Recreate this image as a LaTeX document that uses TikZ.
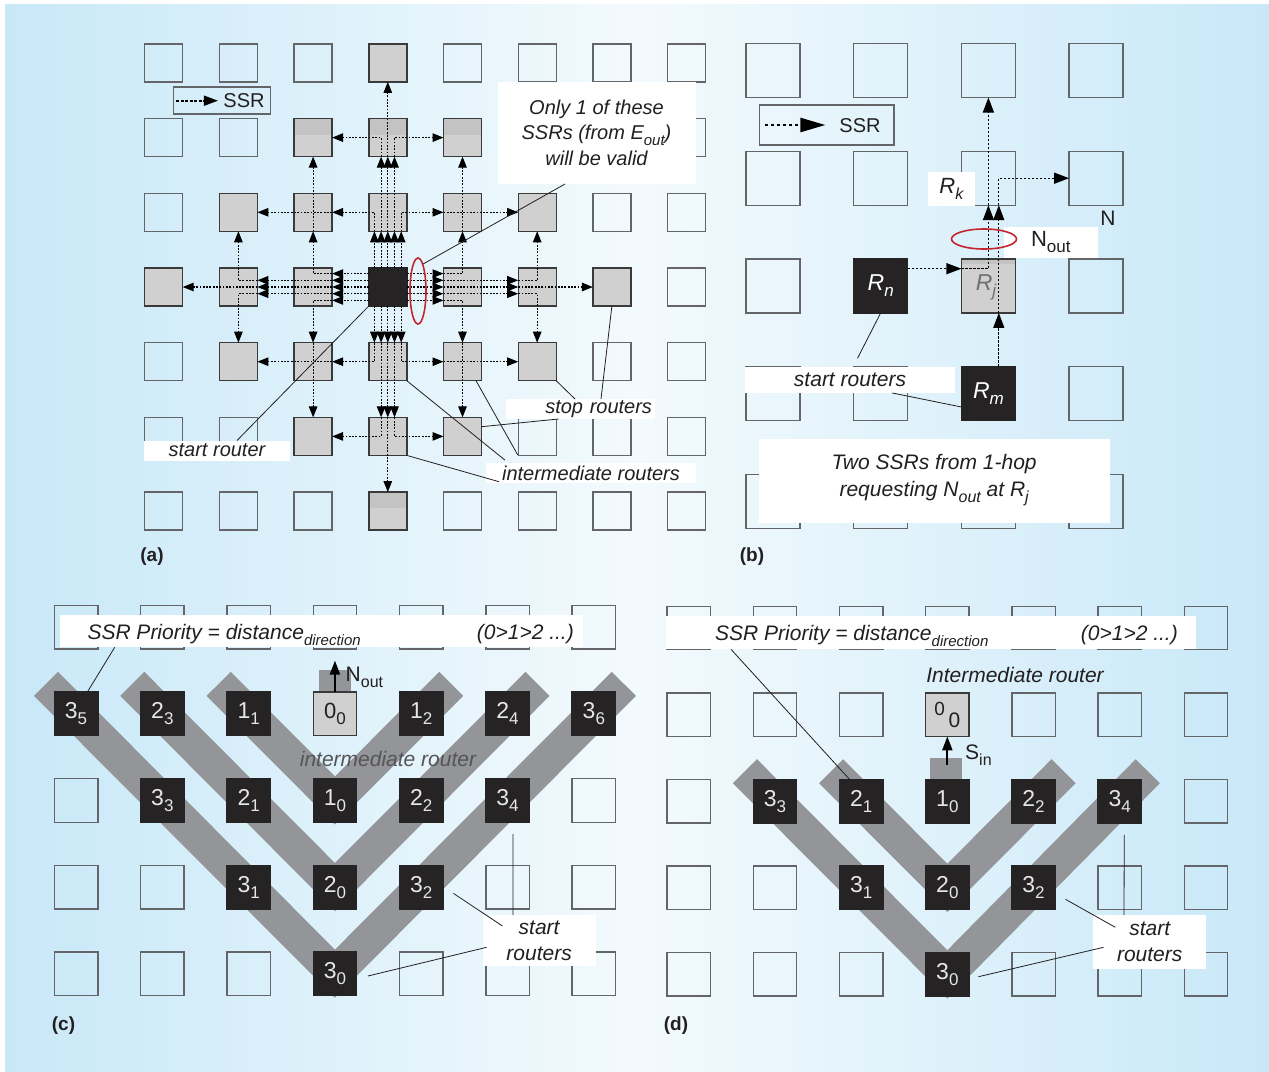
\documentclass[tikz,border=0pt]{standalone}
\usepackage{fontspec}
\setmainfont{Liberation Sans}
\usetikzlibrary{arrows.meta,calc,shapes.geometric}
\definecolor{bgb}{HTML}{C8E8F8}
\definecolor{bgw}{HTML}{F3FAFD}
\definecolor{sqline}{HTML}{646569}
\definecolor{gline}{HTML}{3A3A3A}
\definecolor{gfill}{HTML}{D0D0D1}
\definecolor{gband}{HTML}{C3C3C4}
\definecolor{blk}{HTML}{262324}
\definecolor{band}{HTML}{939598}
\definecolor{txt}{HTML}{231F20}
\definecolor{redc}{HTML}{C4262E}
\definecolor{digit}{HTML}{E6E6E6}
\definecolor{rjtxt}{HTML}{707072}
\definecolor{irtxt}{HTML}{555557}
\pgfdeclarelayer{back}
\pgfdeclarelayer{bands}
\pgfsetlayers{back,bands,main}
\newcommand\fsz[1]{\fontsize{#1}{#1}\selectfont}
\newcommand\lsub[3]{\raisebox{-#1}{\fsz{#2}#3}}
\newcommand\dg[2]{#1\raisebox{-6pt}{\fsz{17}#2}}
\tikzset{
 sq/.style={inner sep=0pt, outer sep=0pt, line width=1.4pt},
 empa/.style={sq, draw=sqline, minimum size=38pt},
 graya/.style={sq, draw=gline, fill=gfill, minimum size=38pt},
 blka/.style={sq, draw=blk, fill=blk, minimum size=38pt},
 empb/.style={sq, draw=sqline, minimum size=54pt},
 grayb/.style={sq, draw=gline, fill=gfill, minimum size=54pt, font=\fsz{23}\itshape, text=rjtxt},
 blkb/.style={sq, draw=blk, fill=blk, minimum size=54pt, font=\fsz{23}\itshape, text=white},
 empc/.style={sq, draw=sqline, minimum size=43.5pt},
 grayc/.style={sq, draw=gline, fill=gfill, minimum size=43.5pt, font=\fsz{22}, text=txt},
 blkc/.style={sq, draw=blk, fill=blk, minimum size=43.5pt, font=\fsz{23}, text=digit},
 wbox/.style={fill=white, inner sep=0pt, outer sep=0pt},
 legbox/.style={draw=sqline, line width=1.2pt, inner sep=0pt},
 ssr/.style={draw=black, line width=1.1pt, dash pattern=on 1.8pt off 1.5pt, -{Triangle[length=11pt,width=8.5pt]}},
 ssrb/.style={draw=black, line width=1.3pt, dash pattern=on 2.2pt off 1.8pt, -{Triangle[length=15pt,width=11pt]}},
 lega/.style={draw=black, line width=1.6pt, dash pattern=on 3pt off 1.5pt, -{Triangle[length=14pt,width=10pt]}},
 legb/.style={draw=black, line width=2.4pt, dash pattern=on 3.5pt off 2.5pt, -{Triangle[length=25pt,width=14pt]}},
 lead/.style={draw=txt, line width=0.8pt},
 bandst/.style={draw=band, line width=34pt, line cap=butt, line join=miter},
 redell/.style={ellipse, draw=redc, line width=1.6pt, inner sep=0pt},
 portarr/.style={draw=black, line width=2pt, -{Triangle[length=14pt,width=10pt]}},
 plabel/.style={font=\fsz{19}\bfseries},
 itx/.style={font=\fsz{20}\itshape},
 itc/.style={font=\fsz{21}\itshape},
 stubst/.style={fill=band, inner sep=0pt, outer sep=0pt},
}
\begin{document}
\begin{tikzpicture}[x=1pt,y=-1pt,font=\fsz{20},text=txt]
\useasboundingbox (0,0) rectangle (1269,1071);
\begin{pgfonlayer}{back}
 \fill[white] (0,0) rectangle (1269,1071);
 \shade[left color=bgb, right color=bgb, middle color=bgw] (5,4) rectangle (1269,1071);
\end{pgfonlayer}

% ================= Panel (a) =================
\foreach \i in {0,...,7}{
 \foreach \j in {0,...,6}{
  \pgfmathtruncatemacro{\dd}{abs(\i-3)+abs(\j-3)}
  \ifnum\dd=0
   \node[blka] (a\i\j) at ({163.7+74.7*\i},{62.9+74.7*\j}) {};
  \else\ifnum\dd<4
   \node[graya] (a\i\j) at ({163.7+74.7*\i},{62.9+74.7*\j}) {};
  \else
   \node[empa] (a\i\j) at ({163.7+74.7*\i},{62.9+74.7*\j}) {};
  \fi\fi
 }}
\foreach \n in {a21,a31,a41,a36}
 \fill[gband] ($(\n.north west)+(0.7,0.7)$) rectangle ($(\n.east)+(-0.7,-3)$);

% legend
\node[legbox, minimum width=97pt, minimum height=27pt] (lgA) at (221.75,100.5) {};
\coordinate (lgAs) at ($(lgA.west)+(3.8,0.2)$);
\coordinate (lgAe) at ($(lgA.west)+(45.3,0.2)$);
\draw[lega] (lgAs) -- (lgAe);
\node (lgAt) at (244,100.5) {SSR};

% callout box
\node[wbox, minimum width=198pt, minimum height=102pt, align=center, font=\fsz{20}\itshape] (only) at (596.5,133)
 {Only 1 of these\\[5pt]SSRs (from E\lsub{6pt}{15}{out})\\[5pt]will be valid};

% SSR lines
\foreach \k in {-2,...,2}{
 \draw[ssr] ($(a33.east)+(0,{6.7*(\k)})$) -- ($(a43.west)+(0,{6.7*(\k)})$);
 \draw[ssr] ($(a33.west)+(0,{6.7*(\k)})$) -- ($(a23.east)+(0,{6.7*(\k)})$);
 \draw[ssr] ($(a33.north)+({6.7*(\k)},0)$) -- ($(a32.south)+({6.7*(\k)},0)$);
 \draw[ssr] ($(a33.south)+({6.7*(\k)},0)$) -- ($(a34.north)+({6.7*(\k)},0)$);
}
\foreach \k in {-1,0,1}{
 \draw[ssr] ($(a43.west)+(0,{6.7*(\k)})$) -- ($(a53.west)+(0,{6.7*(\k)})$);
 \draw[ssr] ($(a23.east)+(0,{6.7*(\k)})$) -- ($(a13.east)+(0,{6.7*(\k)})$);
 \draw[ssr] ($(a32.south)+({6.7*(\k)},0)$) -- ($(a31.south)+({6.7*(\k)},0)$);
 \draw[ssr] ($(a34.north)+({6.7*(\k)},0)$) -- ($(a35.north)+({6.7*(\k)},0)$);
}
% east
\draw[ssr] ($(a43.west)+(0,-13.4)$) -| (a42.south);
\draw[ssr] (a42.south) -- (a41.south);
\draw[ssr] ($(a43.west)+(0,13.4)$) -| (a44.north);
\draw[ssr] (a44.north) -- (a45.north);
\draw[ssr] ($(a53.west)+(0,-6.7)$) -| (a52.south);
\draw[ssr] ($(a53.west)+(0,6.7)$) -| (a54.north);
\draw[ssr] (a53.west) -- (a63.west);
% west
\draw[ssr] ($(a23.east)+(0,-13.4)$) -| (a22.south);
\draw[ssr] (a22.south) -- (a21.south);
\draw[ssr] ($(a23.east)+(0,13.4)$) -| (a24.north);
\draw[ssr] (a24.north) -- (a25.north);
\draw[ssr] ($(a13.east)+(0,-6.7)$) -| (a12.south);
\draw[ssr] ($(a13.east)+(0,6.7)$) -| (a14.north);
\draw[ssr] (a13.east) -- (a03.east);
% north
\draw[ssr] ($(a32.south)+(-13.4,0)$) |- (a22.east);
\draw[ssr] (a22.east) -- (a12.east);
\draw[ssr] ($(a32.south)+(13.4,0)$) |- (a42.west);
\draw[ssr] (a42.west) -- (a52.west);
\draw[ssr] ($(a31.south)+(-6.7,0)$) |- (a21.east);
\draw[ssr] ($(a31.south)+(6.7,0)$) |- (a41.west);
\draw[ssr] (a31.south) -- (a30.south);
% south
\draw[ssr] ($(a34.north)+(-13.4,0)$) |- (a24.east);
\draw[ssr] (a24.east) -- (a14.east);
\draw[ssr] ($(a34.north)+(13.4,0)$) |- (a44.west);
\draw[ssr] (a44.west) -- (a54.west);
\draw[ssr] ($(a35.north)+(-6.7,0)$) |- (a25.east);
\draw[ssr] ($(a35.north)+(6.7,0)$) |- (a45.west);
\draw[ssr] (a35.north) -- (a36.north);

% red ellipse and callout leader
\node[redell, minimum width=16pt, minimum height=66pt] (ea) at (418,291) {};
\draw[lead] (ea.79) -- ($(only.south)+(-31.5,0)$);

% labels (a)
\node[wbox, minimum width=146pt, minimum height=20pt, itx] (lstart) at (217,450.5) {start router};
\draw[lead] (a33.south west) -- ($(lstart.north)+(20,0)$);
\node[wbox, text width=143pt, align=right, inner xsep=3pt, minimum height=20pt, itx] (lstop) at (580.5,409) {stop routers};
\draw[lead] (a54.south east) -- ($(lstop.north)+(-5.5,0)$);
\draw[lead] (a63.south) -- ($(lstop.north)+(20.5,0)$);
\draw[lead] ($(a45.east)+(0,-9.7)$) -- ($(lstop.south)+(-22,0)$);
\node[wbox, minimum width=210pt, minimum height=20pt, itx] (linter) at (591,473) {intermediate routers};
\draw[lead] ($(a44.south)+(13.5,0)$) -- ($(linter.north west)+(31.8,-8)$);
\draw[lead] (a34.south east) -- ($(linter.north west)+(18.8,-3)$);
\draw[lead] (a35.south east) -- ($(linter.north west)+(13,18.7)$);
\node[plabel] (pa) at (152,557) {(a)};

% ================= Panel (b) =================
\foreach \i in {0,...,3}{
 \foreach \j in {0,...,4}{
  \pgfmathtruncatemacro{\id}{10*\i+\j}
  \ifnum\id=12 \else\ifnum\id=22 \else\ifnum\id=23 \else
   \node[empb] (b\i\j) at ({773+107.7*\i},{70.5+107.7*\j}) {};
  \fi\fi\fi
 }}
\node[blkb] (b12) at (880.7,285.9) {R\lsub{6pt}{17}{n}};
\node[grayb] (b22) at (988.4,285.9) {};
\fill[gband] ($(b22.north west)+(0.7,0.7)$) rectangle ($(b22.north east)+(-0.7,5)$);
\node[font=\fsz{23}\itshape, text=rjtxt] (rjt) at (986,287) {R\lsub{6pt}{17}{j}};
\node[blkb] (b23) at (988.4,393.6) {R\lsub{6pt}{17}{m}};

\node[legbox, minimum width=134.3pt, minimum height=40pt] (lgB) at (826.85,125) {};
\coordinate (lgBs) at ($(lgB.west)+(5.8,0)$);
\coordinate (lgBe) at ($(lgB.west)+(66.3,0)$);
\draw[legb] (lgBs) -- (lgBe);
\node (lgBt) at (860,126) {SSR};

\node[wbox, minimum width=47pt, minimum height=34pt, font=\fsz{22}\itshape] (rk) at (951.4,188.7) {R\lsub{6pt}{16}{k}};
\node[wbox, minimum width=94pt, minimum height=31pt, font=\fsz{22}] (nout) at (1050.8,242.2) {N\lsub{6pt}{17}{out}};
\node[font=\fsz{21}] (nlab) at (1108,218) {N};

\draw[ssrb] ($(b12.east)+(0,-17.2)$) -- ($(b22.west)+(0,-17.2)$);
\draw[ssrb] ($(b22.west)+(0,-17.2)$) -| (b21.south);
\draw[ssrb] (b21.south) -- (b20.south);
\draw[ssrb] ($(b23.north)+(10.4,0)$) -- ($(b22.south)+(10.4,0)$);
\draw[ssrb] ($(b22.south)+(10.4,0)$) -- ($(b21.south)+(10.4,0)$);
\draw[ssrb] ($(b21.south)+(10.4,0)$) |- (b31.west);
\node[redell, minimum width=65pt, minimum height=20pt] (eb) at (984,239) {};

\node[wbox, minimum width=210pt, minimum height=26pt, itc] (lsb) at (850,380) {start routers};
\draw[lead] (b12.south) -- ($(lsb.north)+(7.5,-8.7)$);
\draw[lead] ($(lsb.south)+(42.3,0)$) -- ($(b23.west)+(0,13.4)$);
\node[wbox, minimum width=351pt, minimum height=84pt, align=center, font=\fsz{21}\itshape] (twob) at (934.15,480.5)
 {Two SSRs from 1-hop\\[6pt]requesting N\lsub{6pt}{16}{out} at R\lsub{6pt}{16}{j}};
\node[plabel] (pb) at (752,557) {(b)};

% ================= Panel (c) =================
\foreach \i in {0,...,6}{
 \foreach \j in {0,...,4}{
  \pgfmathtruncatemacro{\isb}{(\j>0)*(abs(\i-3)<5-\j)}
  \ifnum\isb=0
   \node[empc] (c\i\j) at ({76.05+86.3*\i},{627.25+86.6*\j}) {};
  \fi
 }}
\foreach \i/\j/\a/\b in {0/1/3/5,1/1/2/3,2/1/1/1,4/1/1/2,5/1/2/4,6/1/3/6,1/2/3/3,2/2/2/1,3/2/1/0,4/2/2/2,5/2/3/4,2/3/3/1,3/3/2/0,4/3/3/2,3/4/3/0}
 \node[blkc] (c\i\j) at ({76.05+86.3*\i},{627.25+86.6*\j}) {\dg{\a}{\b}};
\node[grayc] (c31) at ({76.05+86.3*3},{627.25+86.6}) {\dg{0}{0}};

% ================= Panel (d) =================
\foreach \i in {0,...,6}{
 \foreach \j in {0,...,4}{
  \pgfmathtruncatemacro{\isb}{(\j==1)*(\i==3)+(\j>1)*(abs(\i-3)<5-\j)}
  \ifnum\isb=0
   \node[empc] (d\i\j) at ({688.75+86.2*\i},{628+86.6*\j}) {};
  \fi
 }}
\foreach \i/\j/\a/\b in {1/2/3/3,2/2/2/1,3/2/1/0,4/2/2/2,5/2/3/4,2/3/3/1,3/3/2/0,4/3/3/2,3/4/3/0}
 \node[blkc] (d\i\j) at ({688.75+86.2*\i},{628+86.6*\j}) {\dg{\a}{\b}};
\node[grayc] (d31) at ({688.75+86.2*3},{628+86.6}) {\raisebox{4pt}{\fsz{19}0}\,\raisebox{-8pt}{\fsz{21}0}};

% bands and port stubs
\begin{pgfonlayer}{bands}
 \draw[bandst] ($(c01.center)+(-30,-30)$) -- (c34.center) -- ($(c61.center)+(30,-30)$);
 \draw[bandst] ($(c11.center)+(-30,-30)$) -- (c33.center) -- ($(c51.center)+(30,-30)$);
 \draw[bandst] ($(c21.center)+(-30,-30)$) -- (c32.center) -- ($(c41.center)+(30,-30)$);
 \draw[bandst] ($(d12.center)+(-30,-30)$) -- (d34.center) -- ($(d52.center)+(28,-30)$);
 \draw[bandst] ($(d22.center)+(-30,-30)$) -- (d33.center) -- ($(d42.center)+(30,-30)$);
 \node[stubst, minimum width=32.6pt, minimum height=23pt] (stubc) at (335,681.7) {};
 \node[stubst, minimum width=32.5pt, minimum height=22pt] (stubd) at (946,769) {};
\end{pgfonlayer}

% (c) annotations
\coordinate (noutc) at ($(c31.north)+(0,-31.5)$);
\draw[portarr] (c31.north) -- (noutc);
\node[anchor=west, font=\fsz{21}, inner sep=0pt] (noutlc) at (345.5,677) {N\lsub{6pt}{16}{out}};
\node[font=\fsz{21}\itshape, text=irtxt] (irc) at (388,759) {intermediate router};
\node[wbox, minimum width=523.3pt, minimum height=32.3pt] (pc) at (321.65,631.15) {};
\node[anchor=base west, itc, inner sep=0pt] (pct) at (87.3,639.5) {SSR Priority = distance\lsub{6pt}{15}{direction}};
\node[anchor=base east, itc, inner sep=0pt] (pcr) at (574,639.5) {(0>1>2 ...)};
\draw[lead] ($(pc.south west)+(54.7,0)$) -- ($(c01.north)+(11.25,0)$);
\node[wbox, minimum width=113pt, minimum height=51pt, align=center, font=\fsz{21}\itshape] (lsc) at (539.15,940.5) {start\\[5pt]routers};
\draw[lead] ($(c43.east)+(10.4,6.3)$) -- ($(lsc.north west)+(19.8,11)$);
\draw[lead] ($(c34.east)+(11.3,2.35)$) -- ($(lsc.west)+(4,6.8)$);
\draw[lead] ($(c52.south)+(5.5,12)$) -- ($(lsc.north west)+(30.4,0)$);
\node[plabel] (pcl) at (63.5,1026) {(c)};

% (d) annotations
\coordinate (sind) at ($(d31.south)+(0,28.5)$);
\draw[portarr] (sind) -- (d31.south);
\node[anchor=west, font=\fsz{21}, inner sep=0pt] (sinl) at (965,755) {S\lsub{6pt}{16}{in}};
\node[font=\fsz{21}\itshape] (ird) at (1015,675) {Intermediate router};
\node[wbox, minimum width=529.8pt, minimum height=33.3pt] (pd) at (930.6,632.65) {};
\node[anchor=base west, itc, inner sep=0pt] (pdt) at (715,640) {SSR Priority = distance\lsub{6pt}{15}{direction}};
\node[anchor=base east, itc, inner sep=0pt] (pdr) at (1178,640) {(0>1>2 ...)};
\draw[lead] ($(pd.south west)+(65.3,0)$) -- ($(d22.north west)+(10.2,0)$);
\node[wbox, minimum width=113pt, minimum height=54pt, align=center, font=\fsz{21}\itshape] (lsd) at (1149.7,942) {start\\[5pt]routers};
\draw[lead] ($(d43.east)+(10.2,11.5)$) -- ($(lsd.north west)+(22.1,12.3)$);
\draw[lead] ($(d34.east)+(9.4,2.3)$) -- ($(lsd.north west)+(10.3,32.3)$);
\draw[lead] ($(d52.south)+(4.5,12)$) -- ($(lsd.north west)+(30.8,0)$);
\node[plabel] (pdl) at (676,1026) {(d)};
\end{tikzpicture}
\end{document}
